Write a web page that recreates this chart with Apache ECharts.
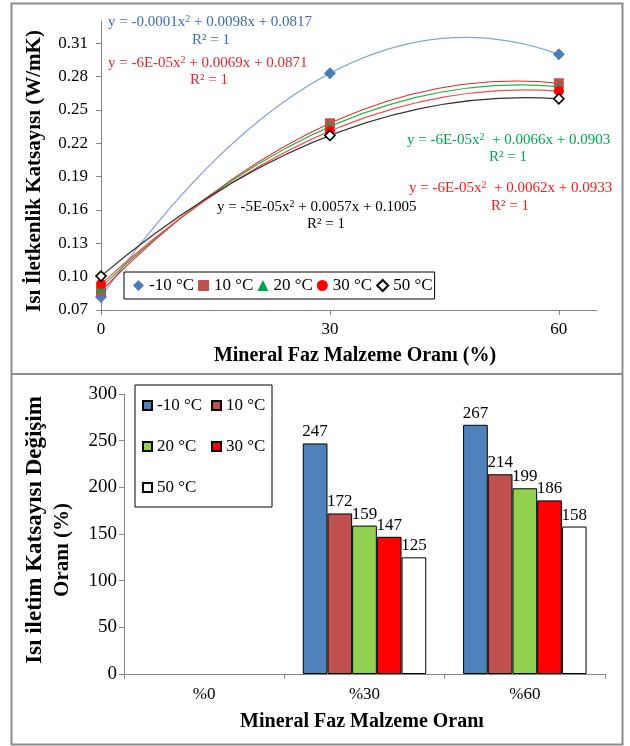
<!DOCTYPE html>
<html><head><meta charset="utf-8">
<script src="https://cdn.jsdelivr.net/npm/echarts@6/dist/echarts.min.js"></script>
<style>html,body{margin:0;padding:0;background:#fff}#c{width:630px;height:746px}</style>
</head><body><div id="c"></div>
<script>
// ---------- data ----------
const seriesNames = ['-10 °C', '10 °C', '20 °C', '30 °C', '50 °C'];
const mineralRatio = [0, 30, 60];
const kMinus10 = [0.0817, 0.283, 0.300];
const k10 = [0.0871, 0.238, 0.274];
const k20 = [0.0903, 0.235, 0.271];
const k30 = [0.0933, 0.231, 0.267];
const k50 = [0.1005, 0.227, 0.260];
const yTicksTop = [0.07, 0.10, 0.13, 0.16, 0.19, 0.22, 0.25, 0.28, 0.31];
const xTicksTop = [0, 30, 60];
const barCategories = ['%0', '%30', '%60'];
const chMinus10 = [null, 247, 267];
const ch10 = [null, 172, 214];
const ch20 = [null, 159, 199];
const ch30 = [null, 147, 186];
const ch50 = [null, 125, 158];
const eqLines = [
  ['y = -0.0001x', ' + 0.0098x + 0.0817'],
  ['y = -6E-05x', ' + 0.0069x + 0.0871'],
  ['y = -6E-05x', '  + 0.0066x + 0.0903'],
  ['y = -6E-05x', '  + 0.0062x + 0.0933'],
  ['y = -5E-05x', ' + 0.0057x + 0.1005']
];
const r2Text = 'R² = 1';

// ---------- styles ----------
const F = '"Liberation Serif", "Times New Roman", serif';
const markerColors = ['#4a7ebb', '#c0504d', '#00a650', '#ff0000', '#ffffff'];
const markerSymbols = ['diamond', 'rect', 'triangle', 'circle', 'diamond'];
const markerSizes = [12, 10, 10, 10, 10];
const fitColors = ['#7ea6da', '#e3262c', '#2db24a', '#ff4a4a', '#333333'];
const barColors = ['#4f81bd', '#c0504d', '#92d050', '#ff0000', '#ffffff'];
const eqColors = ['#3e6bb0', '#e3262c', '#00a650', '#ff1a1a', '#000000'];
const topVals = [kMinus10, k10, k20, k30, k50];
const barVals = [chMinus10, ch10, ch20, ch30, ch50];
const axisGray = '#868686';

const series = [];
// second-order trendlines: a parabola through the three measured points,
// drawn as a quadratic Bezier whose end/control points come from the axis scales
topVals.forEach((vals, i) => {
  series.push({
    type: 'custom', name: 'fit' + i, xAxisIndex: 0, yAxisIndex: 0, silent: true, z: 2,
    data: mineralRatio.map((x, j) => [x, vals[j]]),
    renderItem: function (params, api) {
      if (params.dataIndex !== 0) return null;
      const p = mineralRatio.map((x, j) => api.coord([x, vals[j]]));
      const cx = 2 * p[1][0] - (p[0][0] + p[2][0]) / 2;
      const cy = 2 * p[1][1] - (p[0][1] + p[2][1]) / 2;
      return {
        type: 'bezierCurve',
        shape: { x1: p[0][0], y1: p[0][1], x2: p[2][0], y2: p[2][1], cpx1: cx, cpy1: cy },
        style: { stroke: fitColors[i], lineWidth: 1.2, fill: null }
      };
    }
  });
});
topVals.forEach((vals, i) => {
  series.push({
    type: 'scatter', name: seriesNames[i], xAxisIndex: 0, yAxisIndex: 0,
    data: mineralRatio.map((x, j) => [x, vals[j]]),
    symbol: markerSymbols[i], symbolSize: markerSizes[i], z: 3,
    itemStyle: i === 4 ? { color: '#ffffff', borderColor: '#000', borderWidth: 1.6, opacity: 1 } : { color: markerColors[i], opacity: 1 }
  });
});
barVals.forEach((vals, i) => {
  series.push({
    type: 'bar', name: 'b:' + seriesNames[i], xAxisIndex: 1, yAxisIndex: 1,
    data: vals, barGap: 0, barCategoryGap: '23%',
    itemStyle: { color: barColors[i], borderColor: '#000', borderWidth: 1 },
    label: { show: true, position: 'top', distance: 3, color: '#000', fontFamily: F, fontSize: 17 }
  });
});

function eqText(i, x, y, rx, ry) {
  const c = eqColors[i];
  return [
    { type: 'text', x: x, y: y, z: 10, style: {
      text: '{t|' + eqLines[i][0] + '}{s|2}{t|' + eqLines[i][1] + '}',
      align: 'left', verticalAlign: 'middle',
      rich: { t: { fontSize: 15, fontFamily: F, fill: c }, s: { fontSize: 10, fontFamily: F, fill: c, verticalAlign: 'top' } }
    } },
    { type: 'text', x: rx, y: ry, z: 10, style: { text: r2Text, align: 'center', verticalAlign: 'middle', font: '15px ' + F, fill: c } }
  ];
}

const graphics = [
  { type: 'rect', shape: { x: 11.5, y: 3.5, width: 611, height: 741 }, style: { fill: 'none', stroke: '#8c8c8c', lineWidth: 2 }, z: -1 },
  { type: 'line', shape: { x1: 11.5, y1: 374, x2: 622.5, y2: 374 }, style: { stroke: '#8c8c8c', lineWidth: 2 }, z: -1 },
  { type: 'text', x: 35, y: 171, rotation: Math.PI / 2, style: { text: 'Isı İletkenlik Katsayısı (W/mK)', align: 'center', verticalAlign: 'middle', font: 'bold 21px ' + F, fill: '#000' } },
  { type: 'text', x: 355, y: 356, style: { text: 'Mineral Faz Malzeme Oranı (%)', align: 'center', verticalAlign: 'middle', font: 'bold 20px ' + F, fill: '#000' } },
  { type: 'text', x: 35, y: 530, rotation: Math.PI / 2, style: { text: 'Isı iletim Katsayısı Değişim', align: 'center', verticalAlign: 'middle', font: 'bold 23px ' + F, fill: '#000' } },
  { type: 'text', x: 63, y: 550, rotation: Math.PI / 2, style: { text: 'Oranı (%)', align: 'center', verticalAlign: 'middle', font: 'bold 21px ' + F, fill: '#000' } },
  { type: 'text', x: 362, y: 722, style: { text: 'Mineral Faz Malzeme Oranı', align: 'center', verticalAlign: 'middle', font: 'bold 20px ' + F, fill: '#000' } }
]
  .concat(eqText(0, 108, 22, 211, 40))
  .concat(eqText(1, 108, 63, 209, 80))
  .concat(eqText(2, 407, 140, 508, 157))
  .concat(eqText(3, 409, 188, 510, 206))
  .concat(eqText(4, 217, 207, 326, 224));

const option = {
  animation: false,
  backgroundColor: '#fff',
  textStyle: { fontFamily: F },
  grid: [
    { left: 101, right: 33, top: 21, bottom: 436, outerBoundsMode: 'none' },
    { left: 124, right: 25, top: 394, bottom: 72, outerBoundsMode: 'none' }
  ],
  xAxis: [
    { type: 'value', gridIndex: 0, min: 0, max: 65,
      axisLine: { show: true, lineStyle: { color: axisGray } },
      axisTick: { show: true, length: 5, customValues: xTicksTop, lineStyle: { color: axisGray } },
      axisLabel: { customValues: xTicksTop, margin: 11, color: '#000', fontFamily: F, fontSize: 17 },
      splitLine: { show: false } },
    { type: 'category', gridIndex: 1, data: barCategories,
      axisLine: { show: true, lineStyle: { color: axisGray } },
      axisTick: { show: true, length: 5, lineStyle: { color: axisGray } },
      axisLabel: { margin: 12, color: '#000', fontFamily: F, fontSize: 17 },
      splitLine: { show: false } }
  ],
  yAxis: [
    { type: 'value', gridIndex: 0, min: 0.07, max: 0.33,
      axisLine: { show: true, lineStyle: { color: axisGray } },
      axisTick: { show: true, length: 5, customValues: yTicksTop, lineStyle: { color: axisGray } },
      axisLabel: { customValues: yTicksTop, margin: 13, color: '#000', fontFamily: F, fontSize: 17, formatter: v => v.toFixed(2) },
      splitLine: { show: false } },
    { type: 'value', gridIndex: 1, min: 0, max: 300, interval: 50,
      axisLine: { show: true, lineStyle: { color: axisGray } },
      axisTick: { show: true, length: 5, lineStyle: { color: axisGray } },
      axisLabel: { margin: 7, color: '#000', fontFamily: F, fontSize: 19 },
      splitLine: { show: false } }
  ],
  legend: [
    { left: 124, top: 272, orient: 'horizontal',
      data: seriesNames.map((n, i) => ({ name: n, icon: markerSymbols[i] })),
      itemWidth: 11, itemHeight: 11, itemGap: 4,
      padding: [5, 2, 5, 9], borderColor: '#000', borderWidth: 1, backgroundColor: '#fff',
      textStyle: { fontFamily: F, fontSize: 17, color: '#000' }, selectedMode: false },
    { left: 135, top: 385, orient: 'horizontal', width: 140,
      data: seriesNames.map(n => ({ name: 'b:' + n, icon: 'rect' })),
      formatter: n => n.slice(2),
      itemWidth: 9, itemHeight: 9, itemGap: 8,
      padding: [4, 0, 3, 7], borderColor: '#000', borderWidth: 1, backgroundColor: '#fff',
      textStyle: { fontFamily: F, fontSize: 17, color: '#000', width: 46, lineHeight: 33 }, selectedMode: false }
  ],
  graphic: graphics,
  series: series
};
const chart = echarts.init(document.getElementById('c'), null, { renderer: 'canvas' });
chart.setOption(option);
</script></body></html>
